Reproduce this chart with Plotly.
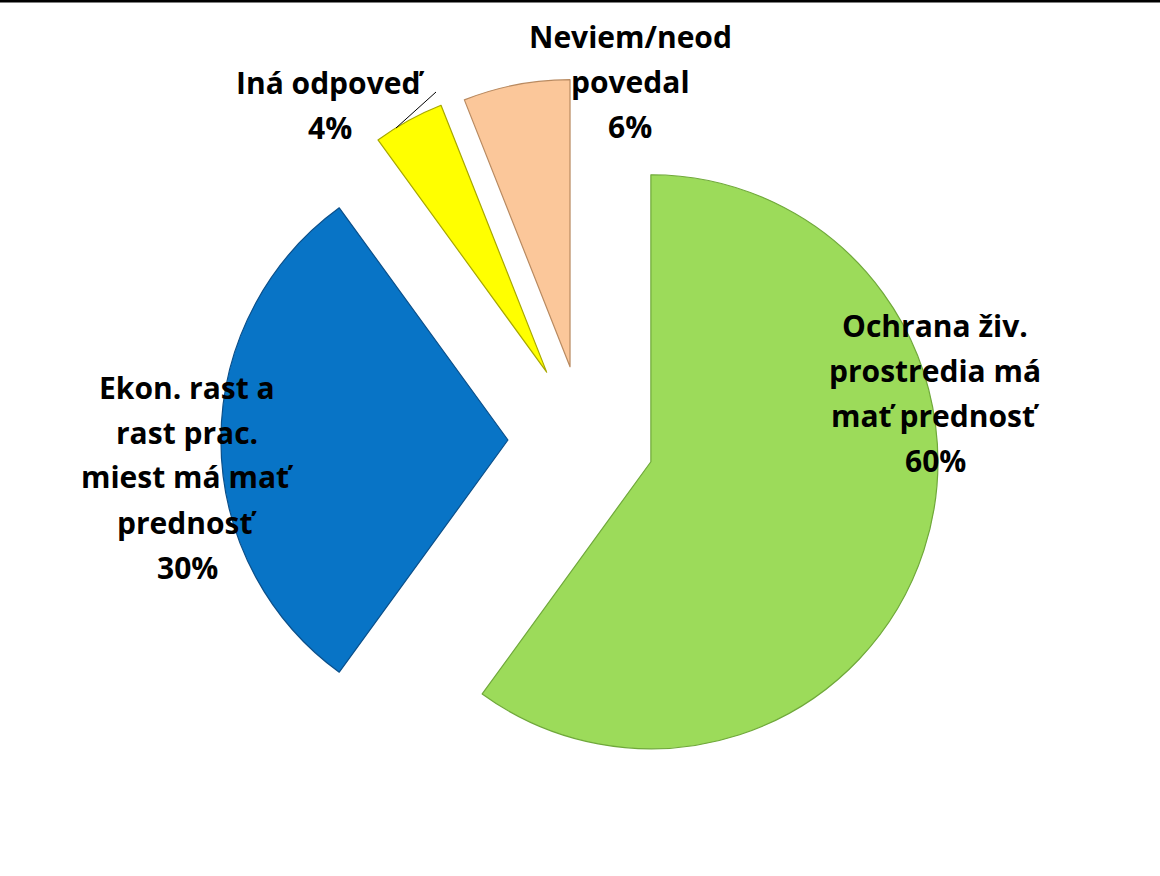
import plotly.graph_objects as go

labels = ["Ochrana živ.<br>prostredia má<br>mať prednosť",
          "Ekon. rast a<br>rast prac.<br>miest má mať<br>prednosť",
          "Iná odpoveď",
          "Neviem/neod<br>povedal"]
values = [60, 30, 4, 6]
colors = ["#9CDB5A", "#0874C6", "#FFFF00", "#FBC79A"]
edge_colors = ["#6FA83A", "#0A4F8A", "#A8A800", "#B98A60"]
pulls = [0.245, 0.265, 0.27, 0.26]

W, H = 1160, 876
# label block centres (pixels) and line spacing
label_centers = [(935, 393), (187, 477), (330, 105), (630, 82)]
line_gap = 45

fig = go.Figure()
fig.add_trace(go.Pie(
    values=values,
    labels=[l.replace("<br>", " ") for l in labels],
    marker=dict(colors=colors, line=dict(color=edge_colors, width=1.2)),
    pull=pulls,
    sort=False,
    direction="clockwise",
    rotation=0,
    textinfo="none",
    hoverinfo="label+percent",
    domain=dict(x=[0.1892, 0.8177], y=[0.0816, 0.9138]),
    showlegend=False,
))

total = sum(values)
for lab, val, (cx, cy) in zip(labels, values, label_centers):
    lines = lab.split("<br>") + [f"{round(100 * val / total)}%"]
    n = len(lines)
    for i, ln in enumerate(lines):
        y = cy + (i - (n - 1) / 2) * line_gap
        fig.add_annotation(
            x=cx / W, y=1 - y / H, xref="paper", yref="paper",
            text=f"<b>{ln}</b>",
            showarrow=False, align="center",
            font=dict(family="Open Sans", size=30, color="#000000"),
            xanchor="center", yanchor="middle",
        )

# leader line for small slice label
fig.add_shape(type="line", xref="paper", yref="paper",
              x0=396 / W, y0=1 - 128 / H, x1=436 / W, y1=1 - 92 / H,
              line=dict(color="#000000", width=1))
# top border line
fig.add_shape(type="line", xref="paper", yref="paper",
              x0=0, y0=1 - 1 / H, x1=1, y1=1 - 1 / H,
              line=dict(color="#000000", width=3))

fig.update_layout(
    width=W, height=H,
    margin=dict(l=0, r=0, t=0, b=0),
    paper_bgcolor="#FFFFFF", plot_bgcolor="#FFFFFF",
)
fig.write_html("out.html", config={"displayModeBar": False},
               post_script="document.body.style.margin='0';")
